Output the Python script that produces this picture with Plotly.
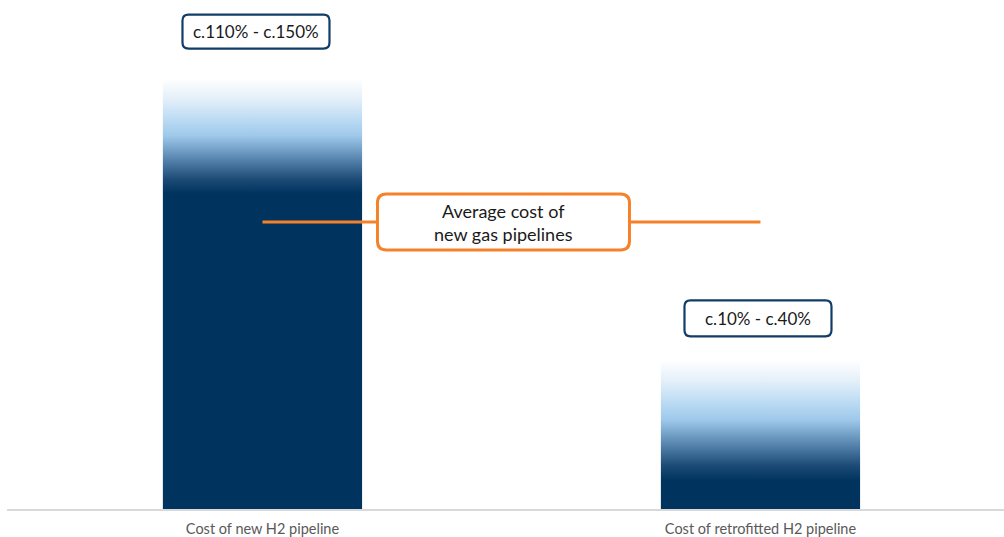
import plotly.graph_objects as go

# ---- data ----
categories = ["Cost of new H2 pipeline", "Cost of retrofitted H2 pipeline"]
range_low = [110, 10]        # solid part top (%)
range_high = [150, 52]       # top of faded part (%)
range_labels = ["c.110% - c.150%", "c.10% - c.40%"]
avg_new_gas = 100
avg_label = "Average cost of<br>new gas pipelines"

NAVY = "#00345f"
ORANGE = "#f5822a"
BOX_NAVY = "#123d66"

fade_scale = [
    [0.0, NAVY],
    [0.12, "#1b4a75"],
    [0.32, "#5e8cb5"],
    [0.5, "#9ec8ea"],
    [0.62, "#b6d8f2"],
    [0.82, "#e3eff9"],
    [1.0, "#ffffff"],
]

half_w = 0.2

fig = go.Figure()
for i, cat in enumerate(categories):
    xs = [i - half_w, i + half_w, i + half_w, i - half_w, i - half_w]
    ys = [0, 0, range_high[i], range_high[i], 0]
    fig.add_trace(go.Scatter(
        x=xs, y=ys, mode="lines", fill="toself", line=dict(width=0),
        fillgradient=dict(type="vertical", colorscale=fade_scale,
                          start=range_low[i], stop=range_high[i]),
        hoverinfo="skip", showlegend=False))

# average line
fig.add_trace(go.Scatter(x=[0, 1], y=[avg_new_gas, avg_new_gas], mode="lines",
                         line=dict(color=ORANGE, width=3), hoverinfo="skip",
                         showlegend=False))


def rrect(w, h, r, cx=0, cy=0):
    x0, x1 = cx - w / 2, cx + w / 2
    y0, y1 = cy - h / 2, cy + h / 2
    return (f"M{x0 + r},{y0} L{x1 - r},{y0} Q{x1},{y0} {x1},{y0 + r} "
            f"L{x1},{y1 - r} Q{x1},{y1} {x1 - r},{y1} L{x0 + r},{y1} "
            f"Q{x0},{y1} {x0},{y1 - r} L{x0},{y0 + r} Q{x0},{y0} {x0 + r},{y0} Z")


shapes = []
annotations = []
label_dx = [-6.5, -2.5]
label_dy = [47, 41.5]
label_h = [34, 36]
for i, txt in enumerate(range_labels):
    shapes.append(dict(type="path", xref="x", yref="y", xsizemode="pixel",
                       ysizemode="pixel", xanchor=i, yanchor=range_high[i],
                       path=rrect(147, label_h[i], 6, cx=label_dx[i], cy=label_dy[i]),
                       line=dict(color=BOX_NAVY, width=2.2), fillcolor="white",
                       layer="above"))
    annotations.append(dict(x=i, y=range_high[i], xshift=label_dx[i],
                            yshift=label_dy[i], text=txt, showarrow=False,
                            font=dict(family="Lato", size=17, color="#1a1a1a")))

shapes.append(dict(type="path", xref="x", yref="y", xsizemode="pixel",
                   ysizemode="pixel", xanchor=0.5, yanchor=avg_new_gas,
                   path=rrect(252, 56, 9, cx=-8, cy=0),
                   line=dict(color=ORANGE, width=3), fillcolor="white",
                   layer="above"))
annotations.append(dict(x=0.5, y=avg_new_gas, text=avg_label, showarrow=False,
                        font=dict(family="Lato", size=18, color="#1a1a1a"),
                        xshift=-8))

fig.update_layout(
    width=1004, height=537,
    margin=dict(l=7, r=0, t=0, b=28),
    paper_bgcolor="white", plot_bgcolor="white",
    shapes=shapes, annotations=annotations,
    xaxis=dict(range=[-0.513, 1.489], tickvals=[0, 1], ticktext=categories,
               showgrid=False, zeroline=False, showline=True,
               linecolor="#d9d9d9", linewidth=1.5, ticks="outside",
               ticklen=6, tickcolor="rgba(0,0,0,0)",
               tickfont=dict(family="Lato", size=14.5, color="#595959"),
               fixedrange=True, automargin=False),
    yaxis=dict(range=[0, 177.4], showgrid=False, zeroline=False,
               showticklabels=False, showline=False, fixedrange=True),
    showlegend=False,
)
fig.write_html("out.html", config={"displayModeBar": False},
               post_script="document.body.style.margin='0';document.body.style.padding='0';")
